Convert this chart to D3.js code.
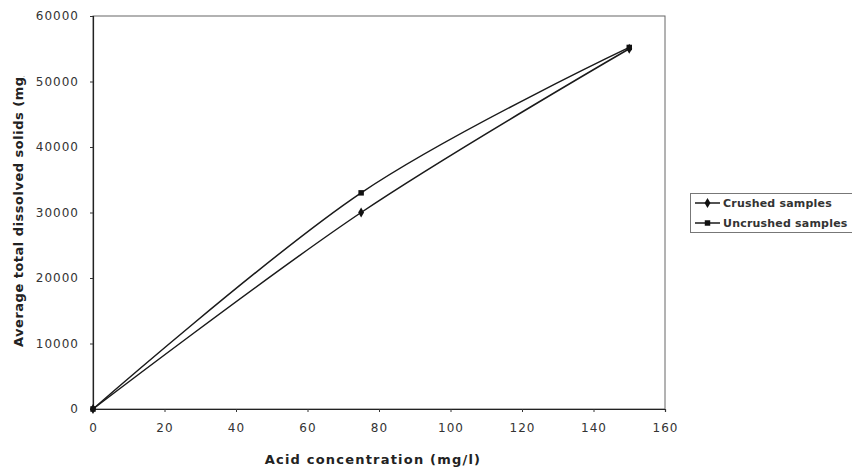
<!DOCTYPE html>
<html><head><meta charset="utf-8">
<script src="https://cdn.jsdelivr.net/npm/d3@7"></script>
<style>body{margin:0;background:#fff}svg{display:block}</style>
</head><body>
<svg id="c" width="852" height="468"></svg>
<script>
const concentrations = [0, 75, 150];
const crushed = [0, 30000, 55000];
const uncrushed = [0, 33000, 55200];
const xTicks = [0, 20, 40, 60, 80, 100, 120, 140, 160];
const yTicks = [0, 10000, 20000, 30000, 40000, 50000, 60000];
const seriesNames = ["Crushed samples", "Uncrushed samples"];

const svg = d3.select("#c");
const L = 93, R = 665, T = 16, B = 409;
const x = d3.scaleLinear().domain([0, 160]).range([L, R]);
const y = d3.scaleLinear().domain([0, 60000]).range([B, T]);
const font = "'DejaVu Sans', Verdana, sans-serif";

// plot frame
svg.append("rect").attr("x", L).attr("y", T).attr("width", R - L).attr("height", B - T)
  .attr("fill", "none").attr("stroke", "#666").attr("stroke-width", 1);

const xAxis = svg.append("g").attr("transform", `translate(0,${B})`)
  .call(d3.axisBottom(x).tickValues(xTicks).tickSize(3).tickPadding(11));
const yAxis = svg.append("g").attr("transform", `translate(${L},0)`)
  .call(d3.axisLeft(y).tickValues(yTicks).tickSize(3).tickPadding(11).tickFormat(d3.format("d")));
[xAxis, yAxis].forEach(a => {
  a.select(".domain").attr("stroke", "#222").attr("stroke-width", 1.2);
  a.selectAll(".tick line").attr("stroke", "#333");
  a.selectAll("text").attr("font-family", font).attr("font-size", 12)
    .attr("letter-spacing", 1).attr("fill", "#333");
});

// axis titles
svg.append("text").attr("x", 373).attr("y", 464).attr("text-anchor", "middle")
  .attr("font-family", font).attr("font-size", 13).attr("font-weight", "bold")
  .attr("letter-spacing", 1.2).attr("fill", "#222")
  .text("Acid concentration (mg/l)");
svg.append("clipPath").attr("id", "yt").append("rect").attr("x", 0).attr("y", 76).attr("width", 40).attr("height", 400);
svg.append("g").attr("clip-path", "url(#yt)").append("text")
  .attr("transform", "translate(23,347) rotate(-90)").attr("text-anchor", "start")
  .attr("font-family", font).attr("font-size", 13).attr("font-weight", "bold")
  .attr("letter-spacing", 0.5).attr("fill", "#222")
  .text("Average total dissolved solids (mg/l)");

const line = d3.line().x(d => x(d[0])).y(d => y(d[1])).curve(d3.curveCardinal.tension(0));
const sets = [crushed, uncrushed];
const diamond = d3.symbol().type(d3.symbolDiamond).size(30);
const square = d3.symbol().type(d3.symbolSquare).size(30);
sets.forEach((vals, i) => {
  const pts = concentrations.map((c, j) => [c, vals[j]]);
  svg.append("path").attr("d", line(pts)).attr("fill", "none").attr("stroke", "#1a1a1a").attr("stroke-width", 1.5);
  svg.selectAll(null).data(pts).enter().append("path")
    .attr("transform", d => `translate(${x(d[0])},${y(d[1])})`)
    .attr("d", i === 0 ? diamond : square).attr("fill", "#111");
});

// legend
const lg = svg.append("g");
lg.append("rect").attr("x", 690.5).attr("y", 193.5).attr("width", 170).attr("height", 39)
  .attr("fill", "#fff").attr("stroke", "#777").attr("stroke-width", 1);
seriesNames.forEach((n, i) => {
  const yy = 203 + i * 20;
  lg.append("line").attr("x1", 695).attr("x2", 720).attr("y1", yy).attr("y2", yy)
    .attr("stroke", "#1a1a1a").attr("stroke-width", 1.5);
  lg.append("path").attr("transform", `translate(707.5,${yy})`).attr("d", i === 0 ? diamond : square).attr("fill", "#111");
  lg.append("text").attr("x", 723).attr("y", yy + 4).attr("font-family", font).attr("font-size", 11)
    .attr("font-weight", "bold").attr("letter-spacing", 0.2).attr("fill", "#333").text(n);
});
</script>
</body></html>
